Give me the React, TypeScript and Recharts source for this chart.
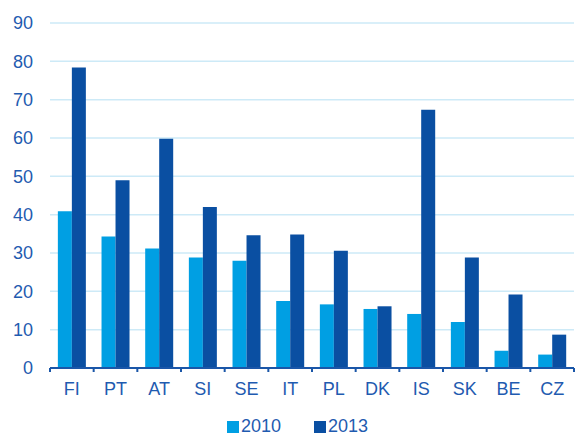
import { BarChart, Bar, XAxis, YAxis, CartesianGrid, Legend } from "recharts";

const countries = ["FI", "PT", "AT", "SI", "SE", "IT", "PL", "DK", "IS", "SK", "BE", "CZ"];
const values2010 = [40.9, 34.3, 31.2, 28.8, 28.0, 17.5, 16.6, 15.4, 14.1, 12.0, 4.5, 3.5];
const values2013 = [78.4, 49.0, 59.8, 42.0, 34.6, 34.8, 30.6, 16.1, 67.4, 28.8, 19.2, 8.7];
const yTicks = [0, 10, 20, 30, 40, 50, 60, 70, 80, 90];

const data = countries.map((c, i) => ({ name: c, y2010: values2010[i], y2013: values2013[i] }));

const FONT = "'Liberation Sans', Arial, sans-serif";
const TEXT = "#1f5bb0";
const LIGHT = "#009fe3";
const DARK = "#0a4fa2";
const AXIS = "#1a56a8";

const W = 575;
const H = 436;
const PLOT_LEFT = 50;
const PLOT_RIGHT = 1;
const BAND = (W - PLOT_LEFT - PLOT_RIGHT) / countries.length;

function XTick(props: any) {
  const { x, y, payload, index } = props;
  const left = x - BAND / 2;
  const isLast = index === countries.length - 1;
  return (
    <g>
      <line x1={left} x2={left} y1={y} y2={y + 4} stroke={AXIS} strokeWidth={2} />
      {isLast && (
        <line x1={left + BAND} x2={left + BAND} y1={y} y2={y + 4} stroke={AXIS} strokeWidth={2} />
      )}
      <text x={x} y={y + 27} textAnchor="middle" fill={TEXT} fontSize={18} fontFamily={FONT}>
        {payload.value}
      </text>
    </g>
  );
}

const legendItems = [
  { label: "2010", color: LIGHT, left: 227 },
  { label: "2013", color: DARK, left: 314 },
];

function renderLegend() {
  return (
    <div style={{ position: "relative", height: 38, fontFamily: FONT, fontSize: 18, lineHeight: "18px", color: TEXT }}>
      {legendItems.map((it) => (
        <div key={it.label}>
          <span style={{ position: "absolute", left: it.left, top: 23, width: 12, height: 12, background: it.color }} />
          <span style={{ position: "absolute", left: it.left + 14, top: 19, whiteSpace: "nowrap" }}>{it.label}</span>
        </div>
      ))}
    </div>
  );
}

export default function App() {
  return (
    <div style={{ position: "absolute", left: 0, top: 0, width: W, height: H, background: "#fff", overflow: "hidden" }}>
      <BarChart
        width={W}
        height={H}
        data={data}
        margin={{ top: 23, right: PLOT_RIGHT, left: 0, bottom: 0 }}
        barCategoryGap="18%"
        barGap={0}
      >
        <CartesianGrid vertical={false} stroke="#cdeaf7" strokeWidth={1.5} />
        <XAxis
          dataKey="name"
          height={30}
          axisLine={{ stroke: AXIS, strokeWidth: 2 }}
          tickLine={false}
          tickSize={0}
          tickMargin={0}
          tick={<XTick />}
          interval={0}
        />
        <YAxis
          width={PLOT_LEFT}
          domain={[0, 90]}
          ticks={yTicks}
          axisLine={false}
          tickLine={false}
          tickMargin={11}
          tick={{ fill: TEXT, fontSize: 18, fontFamily: FONT }}
        />
        <Legend verticalAlign="bottom" height={38} content={renderLegend} />
        <Bar dataKey="y2010" name="2010" fill={LIGHT} isAnimationActive={false} />
        <Bar dataKey="y2013" name="2013" fill={DARK} isAnimationActive={false} />
      </BarChart>
    </div>
  );
}
